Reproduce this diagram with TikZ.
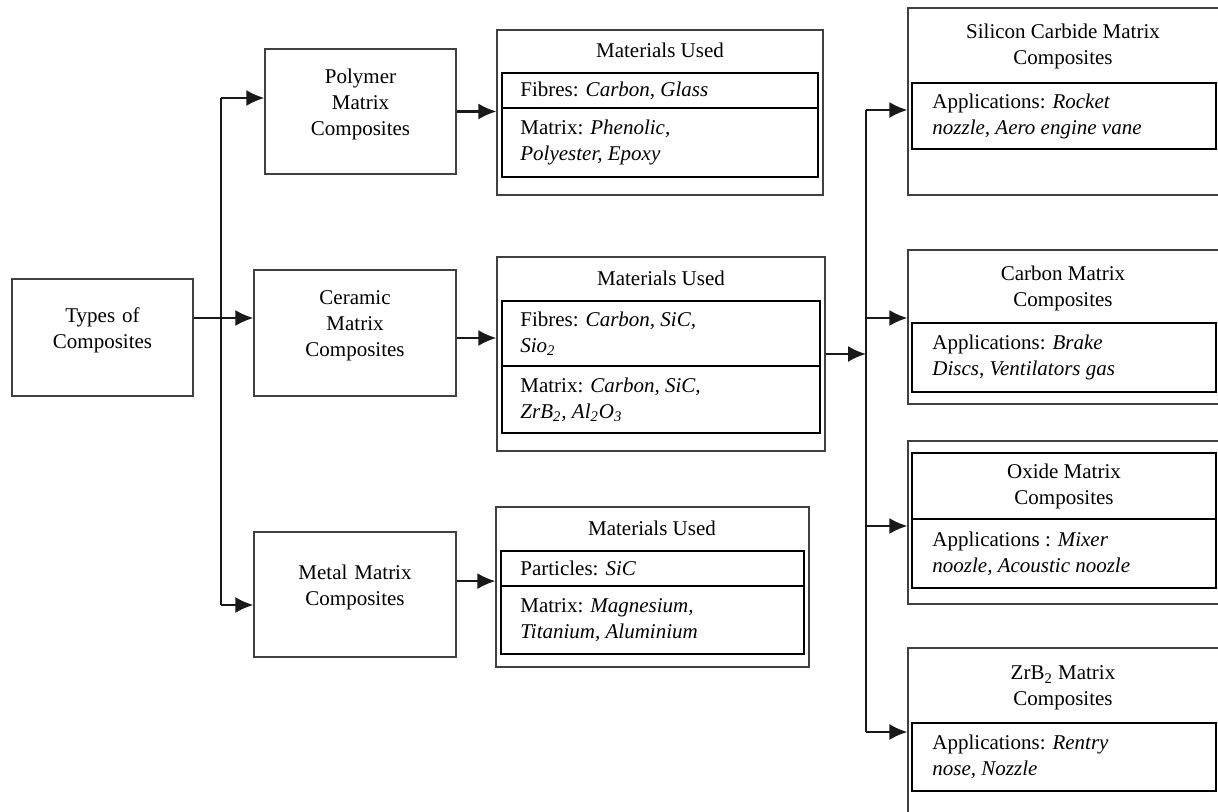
\documentclass[tikz,border=0pt]{standalone}
\usepackage{fontspec}
\setmainfont{Liberation Serif}
\usetikzlibrary{arrows.meta,fit}
\tikzset{
  box/.style={draw=black!75, line width=0.6pt, inner sep=0pt},
  row/.style={draw=black, line width=1.1pt, inner sep=0pt},
  txt/.style={inner sep=0pt, align=left, anchor=west},
  ttl/.style={inner sep=0pt, align=center},
  arr/.style={-{Latex[length=9pt,width=8pt]}, line width=1.1pt, black!90},
  trunk/.style={line width=0.6pt, black!90}
}
\begin{document}
\begin{tikzpicture}[x=0.5pt,y=-0.5pt,font=\fontsize{10.5}{13}\selectfont]
  \useasboundingbox (0,0) rectangle (1218,812);
  \node[box, fit={(12,279) (193,396)}, align=center] (types) {Types of\\Composites};
  \node[box, fit={(265,49) (456,174)}, align=center] (polymer) {Polymer\\Matrix\\Composites};
  \node[box, fit={(254,270) (456,396)}, align=center] (ceramic) {Ceramic\\Matrix\\Composites};
  \node[box, fit={(254,532) (456,657)}, align=center] (metal) {Metal Matrix\\Composites};

  \node[box, fit={(497,30) (823,195)}] (mat1) {};
  \node[ttl] (mat1t) at (660,50) {Materials Used};
  \node[row, fit={(502,73) (818,108)}] (m1fib) {};
  \node[row, fit={(502,108) (818,177)}] (m1mat) {};
  \node[txt] (m1fibt) at (520,90.5) {Fibres: \textit{Carbon, Glass}};
  \node[txt] (m1matt) at (520,142.5) {Matrix: \textit{Phenolic,}\\\textit{Polyester, Epoxy}};

  \node[box, fit={(497,257) (825,451)}] (mat2) {};
  \node[ttl] (mat2t) at (661,278) {Materials Used};
  \node[row, fit={(502,301) (820,366)}] (m2fib) {};
  \node[row, fit={(502,366) (820,433)}] (m2mat) {};
  \node[txt] (m2fibt) at (520,333.5) {Fibres: \textit{Carbon, SiC,}\\\textit{Sio\textsubscript{2}}};
  \node[txt] (m2matt) at (520,399.5) {Matrix: \textit{Carbon, SiC,}\\\textit{ZrB\textsubscript{2}, Al\textsubscript{2}O\textsubscript{3}}};

  \node[box, fit={(496,507) (809,667)}] (mat3) {};
  \node[ttl] (mat3t) at (652,528) {Materials Used};
  \node[row, fit={(501,551) (804,586)}] (m3fib) {};
  \node[row, fit={(501,586) (804,654)}] (m3mat) {};
  \node[txt] (m3fibt) at (520,568.5) {Particles: \textit{SiC}};
  \node[txt] (m3matt) at (520,620) {Matrix: \textit{Magnesium,}\\\textit{Titanium, Aluminium}};

  \node[box, fit={(908,8) (1224,195)}] (sic) {};
  \node[ttl] (sict) at (1063,46.5) {Silicon Carbide Matrix\\Composites};
  \node[row, fit={(912,83) (1216,149)}] (sicapp) {};
  \node[txt] (sicappt) at (932,116) {Applications: \textit{Rocket}\\\textit{nozzle, Aero engine vane}};

  \node[box, fit={(908,250) (1224,404)}] (carbon) {};
  \node[ttl] (carbont) at (1063,288) {Carbon Matrix\\Composites};
  \node[row, fit={(912,323) (1216,392)}] (carbonapp) {};
  \node[txt] (carbonappt) at (932,357.5) {Applications: \textit{Brake}\\\textit{Discs, Ventilators gas}};

  \node[box, fit={(908,441) (1224,604)}] (oxide) {};
  \node[row, fit={(912,453) (1216,519)}] (oxidettl) {};
  \node[ttl] (oxidet) at (1064,486) {Oxide Matrix\\Composites};
  \node[row, fit={(912,519) (1216,588)}] (oxideapp) {};
  \node[txt] (oxideappt) at (932,553.5) {Applications : \textit{Mixer}\\\textit{noozle, Acoustic noozle}};

  \node[box, fit={(908,648) (1224,830)}] (zrb) {};
  \node[ttl] (zrbt) at (1063,688) {ZrB\textsubscript{2} Matrix\\Composites};
  \node[row, fit={(912,723) (1216,791)}] (zrbapp) {};
  \node[txt] (zrbappt) at (932,757) {Applications: \textit{Rentry}\\\textit{nose, Nozzle}};

  \coordinate (ltop) at (221,98);
  \coordinate (lsplit) at (221,318);
  \coordinate (lbot) at (221,605);
  \draw[trunk] (types.east |- lsplit) -- (lsplit);
  \draw[trunk] (ltop) -- (lbot);
  \draw[arr] (ltop) -- (ltop -| polymer.west);
  \draw[arr] (lsplit) -- (lsplit -| ceramic.west);
  \draw[arr] (lbot) -- (lbot -| metal.west);

  \coordinate (m2in) at ([yshift=-2.5pt]ceramic.east -| mat2.west);
  \coordinate (m3in) at ([yshift=3pt]m3fib.south -| mat3.west);
  \draw[arr] (polymer.east) -- (polymer.east -| mat1.west);
  \draw[arr] (ceramic.east |- m2in) -- (m2in);
  \draw[arr] (metal.east |- m3in) -- (m3in);

  \coordinate (rtop) at (866,110);
  \coordinate (rcarbon) at (866,318);
  \coordinate (roxide) at (866,526);
  \coordinate (rbot) at (866,732);
  \draw[arr] (mat2.east) -- (mat2.east -| rtop);
  \draw[trunk] (rtop) -- (rbot);
  \draw[arr] (rtop) -- (rtop -| sic.west);
  \draw[arr] (rcarbon) -- (rcarbon -| carbon.west);
  \draw[arr] (roxide) -- (roxide -| oxide.west);
  \draw[arr] (rbot) -- (rbot -| zrb.west);
\end{tikzpicture}
\end{document}
